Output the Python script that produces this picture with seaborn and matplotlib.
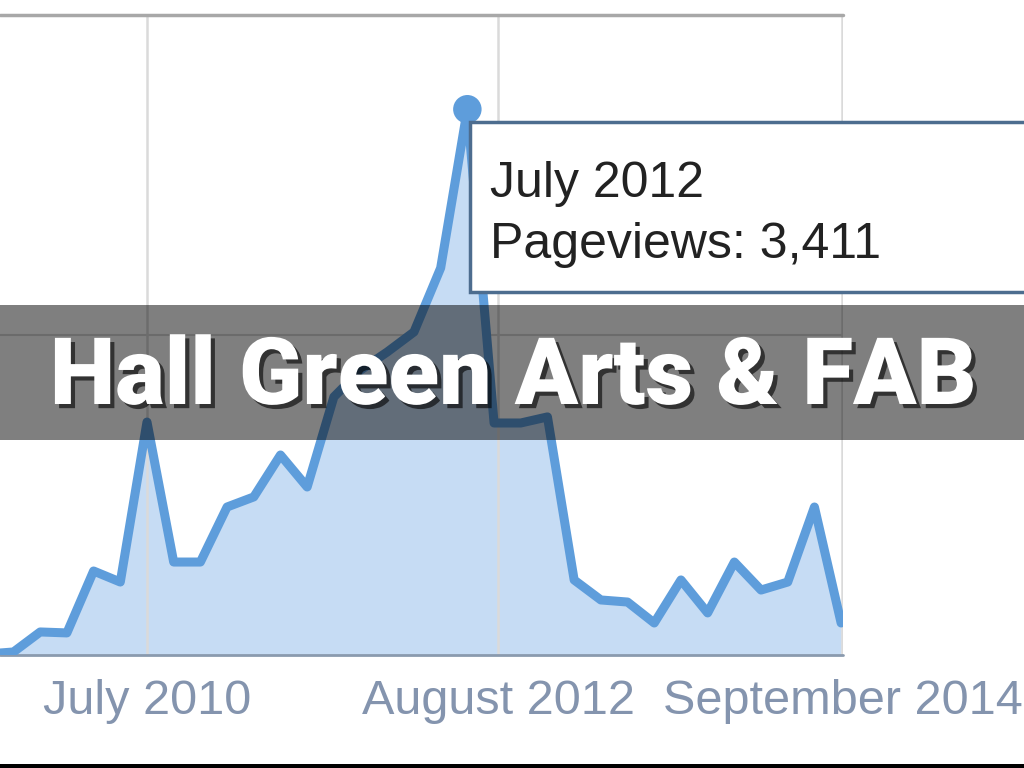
import matplotlib
matplotlib.use("Agg")
import matplotlib.pyplot as plt
from matplotlib.patches import Rectangle
import matplotlib.patheffects as pe
import seaborn as sns
import pandas as pd
import numpy as np

# monthly-ish pageviews
idx = list(range(33))
pageviews = [6, 19, 144, 138, 525, 456, 1456, 581, 581, 925, 988, 1250, 1050,
             1613, 1781, 1894, 2019, 2419, 3411, 1450, 1450, 1488, 469, 344,
             331, 200, 469, 263, 581, 406, 456, 925, 200]
tick_pos = [6, 19.15, 32.05]
tick_labels = ["July 2010", "August 2012", "September 2014"]
peak_label = "July 2012"
peak_value = 3411
title = "Hall Green Arts & FAB"

df = pd.DataFrame({"i": idx, "views": pageviews})

sns.set_theme(style="white")
plt.rcParams['font.family'] = ['Liberation Sans', 'DejaVu Sans']

W, H = 1024, 768
fig = plt.figure(figsize=(W / 100, H / 100), dpi=100)
fig.patch.set_facecolor("white")

# axes placed to match the cropped screenshot
ax = fig.add_axes([0, (H - 655) / H, 843 / W, 640 / H])
ax.set_facecolor("white")

line_col = "#5e9ddb"
ax.fill_between(df.i, df.views, color="#c6dcf4", zorder=1, lw=0)
sns.lineplot(data=df, x="i", y="views", color=line_col, lw=6.5, ax=ax, zorder=3,
             solid_joinstyle="round", solid_capstyle="round")
pk = df[df.views == peak_value]
sns.scatterplot(data=pk, x="i", y="views", color=line_col, s=420, ax=ax,
                zorder=4, edgecolor="none", clip_on=False)

ax.set_xlim(13.2 / 26.7, 32.07)
ax.set_ylim(0, 4000)
for x in tick_pos:
    ax.axvline(x, color="#dadada", lw=1.8, zorder=2)
ax.axhline(2000, color="#d8d8d8", lw=1.5, zorder=0.5)
for s in ["left", "right", "bottom", "top"]:
    ax.spines[s].set_visible(False)
ax.axhline(4000, color="#a8a8a8", lw=2.5, zorder=2, clip_on=False)
ax.axhline(0, color="#8a9aae", lw=2, zorder=2, clip_on=False)

ax.set_xticks(tick_pos, tick_labels)
ax.set_yticks([])
ax.tick_params(axis="x", length=0, pad=17, labelsize=35, labelcolor="#8494ae")
for lab in ax.get_xticklabels():
    lab.set_clip_on(False)
ax.set_xlabel("")
ax.set_ylabel("")

# tooltip
fig.add_artist(Rectangle((470 / W, 1 - 292 / H), 600 / W, 170 / H,
                         transform=fig.transFigure, facecolor="white",
                         edgecolor="#4d6d8f", lw=2.5, zorder=5))
fig.text(490 / W, 1 - 197 / H, peak_label, fontsize=36, color="#222222",
         va="baseline", ha="left", zorder=6)
fig.text(490 / W, 1 - 258 / H, f"Pageviews: {peak_value:,}", fontsize=36,
         color="#222222", va="baseline", ha="left", zorder=6)

# title banner
fig.add_artist(Rectangle((0, 1 - 440 / H), 1, 135 / H, transform=fig.transFigure,
                         facecolor="black", alpha=0.5, edgecolor="none", zorder=7))
t = fig.text(513 / W, 1 - 404 / H, title, fontsize=67, color="white",
             fontweight="black", family=["Roboto", "DejaVu Sans"],
             ha="center", va="baseline", zorder=8)
t.set_path_effects([pe.withSimplePatchShadow(offset=(3, -3), shadow_rgbFace="black", alpha=0.6)])

# black strip at the bottom edge
fig.add_artist(Rectangle((0, 0), 1, 4 / H, transform=fig.transFigure,
                         facecolor="black", edgecolor="none", zorder=9))

fig.savefig("out.png", dpi=100)
